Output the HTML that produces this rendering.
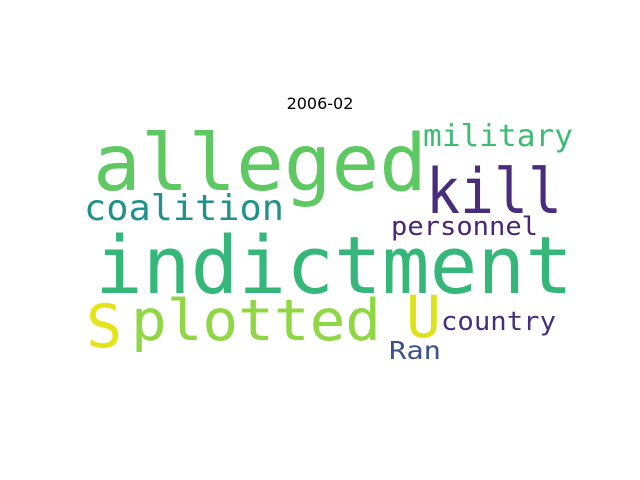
<!DOCTYPE html>
<html><head><meta charset="utf-8"><style>
html,body{margin:0;padding:0;background:#fff;width:640px;height:480px;overflow:hidden}
text{font-family:"DejaVu Sans Mono","Liberation Mono",monospace}
text.title{font-family:"DejaVu Sans","Liberation Sans",sans-serif}
</style></head><body>
<svg width="640" height="480" viewBox="0 0 640 480">
<text class="title" x="320" y="109" text-anchor="middle" font-size="16" fill="#000">2006-02</text>
<text x="93" y="190" font-size="78" fill="#5ec962" textLength="334" lengthAdjust="spacingAndGlyphs">alleged</text>
<text x="95" y="293" font-size="79" fill="#35b779" textLength="478" lengthAdjust="spacingAndGlyphs">indictment</text>
<text x="426" y="213" font-size="62" fill="#472d7b" textLength="136" lengthAdjust="spacingAndGlyphs">kill</text>
<text x="131" y="340" font-size="57" fill="#8fd744" textLength="250" lengthAdjust="spacingAndGlyphs">plotted</text>
<text x="86" y="347" font-size="60" fill="#e5e419">S</text>
<text x="406" y="337" font-size="58" fill="#dde318">U</text>
<text x="84" y="220" font-size="36" fill="#21918c" textLength="200" lengthAdjust="spacingAndGlyphs">coalition</text>
<text x="423" y="146" font-size="30" fill="#3dbc74" textLength="150" lengthAdjust="spacingAndGlyphs">military</text>
<text x="391" y="235" font-size="26" fill="#482677" textLength="147" lengthAdjust="spacingAndGlyphs">personnel</text>
<text x="441" y="330" font-size="26" fill="#472f7d" textLength="115" lengthAdjust="spacingAndGlyphs">country</text>
<text x="389" y="359" font-size="25" fill="#3b528b" textLength="52" lengthAdjust="spacingAndGlyphs">Ran</text>
</svg>
</body></html>
